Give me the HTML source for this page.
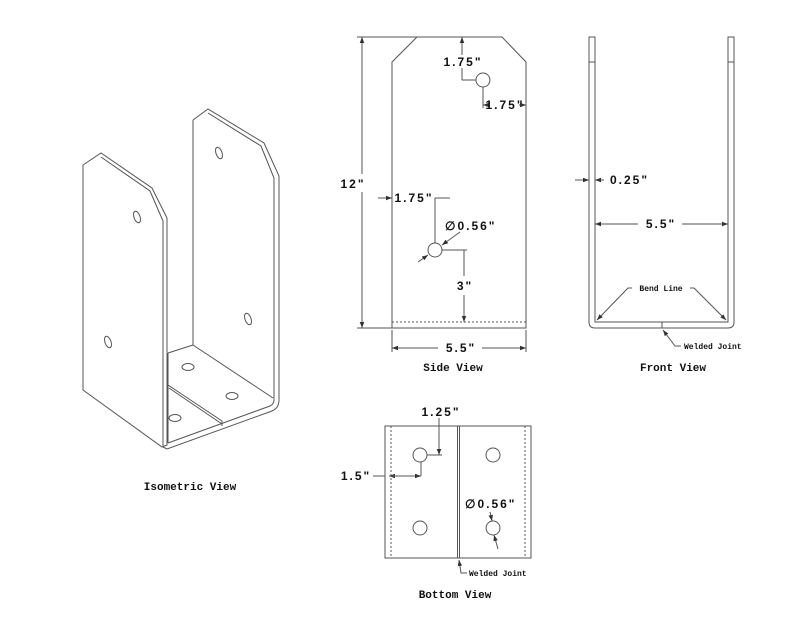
<!DOCTYPE html>
<html><head><meta charset="utf-8"><style>
html,body{margin:0;padding:0;background:#fff;}
svg{display:block;}
text{font-family:"Liberation Mono",monospace;fill:#111;}
.d{font-family:"Liberation Sans",sans-serif;font-size:12px;font-weight:bold;letter-spacing:2px;}
.t{font-size:11px;font-weight:bold;}
.s{font-size:8px;font-weight:bold;}
</style></head><body>
<svg width="800" height="618" viewBox="0 0 800 618" xmlns="http://www.w3.org/2000/svg">
<defs>
<marker id="a" viewBox="0 0 8 6" refX="8" refY="3" markerWidth="6" markerHeight="5" orient="auto-start-reverse"><path d="M0,0L8,3L0,6z" fill="#333"/></marker>
</defs>
<g fill="none" stroke="#555" stroke-width="1">
<path d="M83,165 L101,153 L152,188 L167,218 L167,445 L162,447 L83,390 Z" fill="#fff"/>
<path d="M101,157 L150,191 L163,221 L163,446"/>
<path d="M193,120 L208,109 L264,143 L279,176 L279,400 Q279,408 272,411 L167,449 L163,447"/>
<path d="M193,120 L193,345 M208,113 L261,146 L274,178 L274,400 Q274,404 270,406 L168,443"/>
<path d="M193,345 L168,353 M193,345 L273,398"/>
<path d="M168,353 L168,443"/>
<path d="M168,385 L222,421 L222,426 M169,388 L222,424"/>
<ellipse cx="137" cy="217" rx="3" ry="6" transform="rotate(-20 137 217)"/>
<ellipse cx="108" cy="342" rx="3" ry="6" transform="rotate(-20 108 342)"/>
<ellipse cx="219" cy="153" rx="3" ry="6" transform="rotate(-20 219 153)"/>
<ellipse cx="248" cy="319" rx="3" ry="6" transform="rotate(-20 248 319)"/>
<ellipse cx="188" cy="367" rx="6" ry="3.5"/>
<ellipse cx="232" cy="396" rx="6" ry="3.5"/>
<ellipse cx="175" cy="418" rx="6" ry="3.5"/>

<path d="M392,328 L392,62 L417,37 L502,37 L526,62 L526,328 Z"/>
<line x1="392" y1="322" x2="526" y2="322" stroke-dasharray="2,2"/>
<circle cx="483" cy="80" r="7"/>
<circle cx="435" cy="250" r="7"/>
<line x1="357" y1="37" x2="417" y2="37"/><line x1="357" y1="328" x2="392" y2="328"/>
<line x1="362" y1="37" x2="362" y2="174" marker-start="url(#a)"/><line x1="362" y1="192" x2="362" y2="328" marker-end="url(#a)"/>
<line x1="462" y1="37" x2="462" y2="55" marker-start="url(#a)"/><line x1="462" y1="68" x2="462" y2="80"/><line x1="462" y1="80" x2="476" y2="80"/>
<line x1="483" y1="87" x2="483" y2="108"/><line x1="483" y1="105" x2="487" y2="105" marker-start="url(#a)"/><line x1="519" y1="105" x2="526" y2="105" marker-end="url(#a)"/>
<line x1="378" y1="198" x2="392" y2="198" marker-end="url(#a)"/><line x1="435" y1="198" x2="450" y2="198"/><line x1="435" y1="198" x2="435" y2="243"/>
<line x1="418" y1="262" x2="428" y2="255" marker-end="url(#a)"/><line x1="442" y1="245" x2="460" y2="232" marker-start="url(#a)"/>
<line x1="442" y1="250" x2="467" y2="250"/><line x1="464" y1="250" x2="464" y2="276"/><line x1="464" y1="295" x2="464" y2="322" marker-end="url(#a)"/>
<line x1="392" y1="330" x2="392" y2="352"/><line x1="526" y1="330" x2="526" y2="352"/>
<line x1="392" y1="348" x2="438" y2="348" marker-start="url(#a)"/><line x1="482" y1="348" x2="526" y2="348" marker-end="url(#a)"/>

<path d="M589,37 L595,37 L595,322 L728,322 L728,37 L734,37 L734,322 Q734,328 728,328 L595,328 Q589,328 589,322 Z"/>
<line x1="589" y1="62" x2="595" y2="62"/><line x1="728" y1="62" x2="734" y2="62"/>
<line x1="575" y1="180" x2="589" y2="180" marker-end="url(#a)"/><line x1="595" y1="180" x2="604" y2="180" marker-start="url(#a)"/>
<line x1="595" y1="224" x2="638" y2="224" marker-start="url(#a)"/><line x1="682" y1="224" x2="728" y2="224" marker-end="url(#a)"/>
<path d="M632,288 L628,288 L597,320" marker-end="url(#a)"/><path d="M690,288 L694,288 L726,320" marker-end="url(#a)"/>
<line x1="662" y1="322" x2="662" y2="328"/>
<path d="M681,346 L675,346 L663,330" marker-end="url(#a)"/>

<rect x="385" y="426" width="146" height="132"/>
<line x1="391" y1="426" x2="391" y2="558" stroke-dasharray="2,2"/>
<line x1="525" y1="426" x2="525" y2="558" stroke-dasharray="2,2"/>
<line x1="457.5" y1="426" x2="457.5" y2="558"/><line x1="459.5" y1="426" x2="459.5" y2="558"/>
<circle cx="420" cy="455" r="7"/><circle cx="493" cy="455" r="7"/>
<circle cx="420" cy="528" r="7"/><circle cx="493" cy="528" r="7"/>
<line x1="439" y1="418" x2="439" y2="455" marker-end="url(#a)"/><line x1="427" y1="455" x2="442" y2="455"/>
<line x1="373" y1="476" x2="385" y2="476"/><line x1="389" y1="476" x2="391" y2="476" marker-start="url(#a)"/><line x1="391" y1="476" x2="421" y2="476" marker-end="url(#a)"/><line x1="421" y1="462" x2="421" y2="476"/>
<line x1="490" y1="512" x2="492" y2="521" marker-end="url(#a)"/><line x1="494" y1="535" x2="498" y2="549" marker-start="url(#a)"/>
<path d="M467,573 L461,573 L459,560" marker-end="url(#a)"/>
</g>
<text class="t" x="190" y="490" text-anchor="middle">Isometric View</text>
<text class="d" x="353" y="188" text-anchor="middle">12"</text>
<text class="d" x="463" y="66" text-anchor="middle">1.75"</text>
<text class="d" x="505" y="109" text-anchor="middle">1.75"</text>
<text class="d" x="414" y="202" text-anchor="middle">1.75"</text>
<text class="d" x="445" y="230">∅0.56"</text>
<text class="d" x="465" y="290" text-anchor="middle">3"</text>
<text class="d" x="461" y="352" text-anchor="middle">5.5"</text>
<text class="t" x="453" y="371" text-anchor="middle">Side View</text>
<text class="d" x="610" y="184">0.25"</text>
<text class="d" x="661" y="228" text-anchor="middle">5.5"</text>
<text class="s" x="661" y="291" text-anchor="middle">Bend Line</text>
<text class="s" x="684" y="349">Welded Joint</text>
<text class="t" x="673" y="371" text-anchor="middle">Front View</text>
<text class="d" x="441" y="416" text-anchor="middle">1.25"</text>
<text class="d" x="356" y="480" text-anchor="middle">1.5"</text>
<text class="d" x="465" y="508">∅0.56"</text>
<text class="s" x="469" y="576">Welded Joint</text>
<text class="t" x="455" y="598" text-anchor="middle">Bottom View</text>
</svg>
</body></html>
